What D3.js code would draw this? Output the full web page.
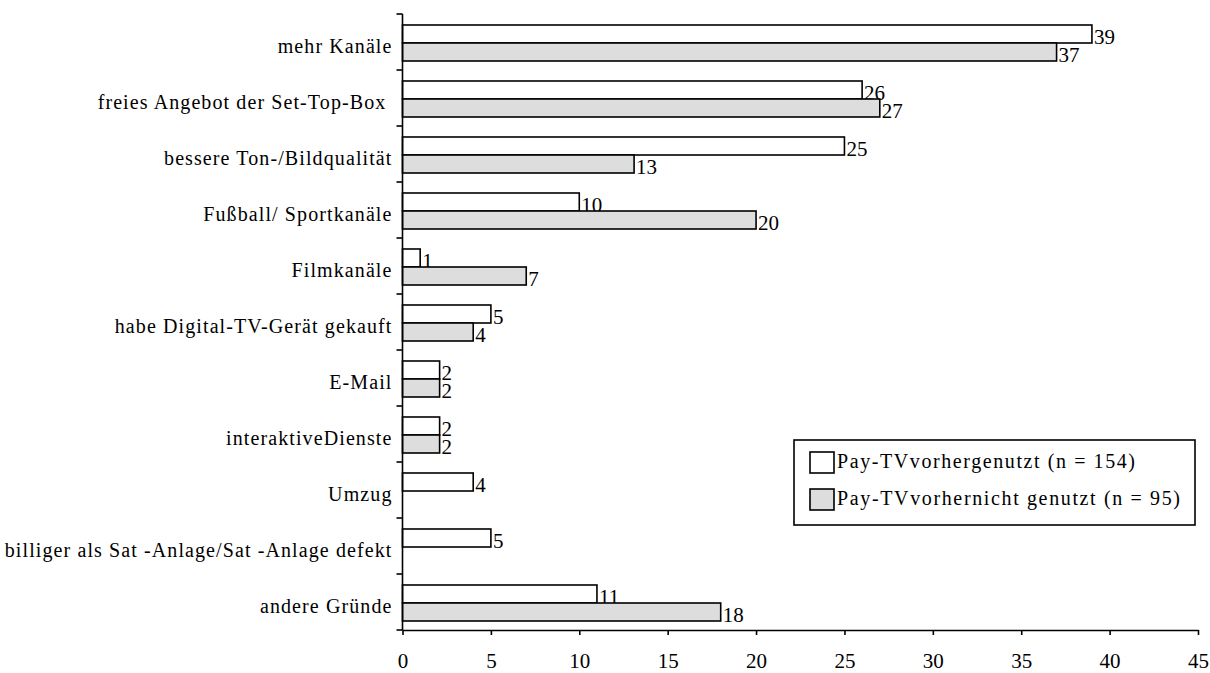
<!DOCTYPE html>
<html lang="de">
<head>
  <meta charset="UTF-8">
  <title>Gründe für Digital-TV</title>
  <script src="https://cdn.jsdelivr.net/npm/d3@7"></script>
  <style>
    body { margin: 0; background: #fff; }
    svg text { font-family: "Liberation Serif", "Times New Roman", serif; fill: #000; white-space: pre; }
  </style>
</head>
<body>
  <svg class="bar-chart"></svg>
</body>
</html>
<script>
  var svgWidth = 1210;
  var svgHeight = 673;

  var categories = [
    'mehr Kanäle',
    'freies Angebot der Set-Top-Box ',
    'bessere Ton-/Bildqualität',
    'Fußball/ Sportkanäle',
    'Filmkanäle',
    'habe Digital-TV-Gerät gekauft',
    'E-Mail',
    'interaktiveDienste',
    'Umzug',
    'billiger als Sat -Anlage/Sat -Anlage defekt',
    'andere Gründe'
  ];
  var seriesNames = ['Pay-TVvorhergenutzt (n = 154)', 'Pay-TVvorhernicht genutzt (n = 95)'];
  var payTvYes = [39, 26, 25, 10, 1, 5, 2.1, 2.1, 4, 5, 11];
  var payTvNo = [37, 27, 13.1, 20, 7, 4, 2.1, 2.1, null, null, 18];
  var xTicks = [0, 5, 10, 15, 20, 25, 30, 35, 40, 45];
  var colors = ['#ffffff', '#dddddd'];

  var margin = {top: 14, right: 12, bottom: 43, left: 402.5};
  var chartWidth = svgWidth - margin.left - margin.right;
  var chartHeight = svgHeight - margin.top - margin.bottom;

  var xScale = d3.scaleLinear()
    .domain([0, 45])
    .range([0, chartWidth]);

  var yScale = d3.scaleBand()
    .domain(categories)
    .range([0, chartHeight]);

  // the two bars of a group sit around the middle of the band
  var subScale = d3.scaleBand()
    .domain([0, 1])
    .range([-17, 19]);

  var svg = d3.select('.bar-chart')
    .attr('width', svgWidth)
    .attr('height', svgHeight);

  var chart = svg.append('g')
    .attr('transform', 'translate(' + margin.left + ',' + margin.top + ')');

  var rows = categories.map(function(c, i) {
    return {name: c, values: [payTvYes[i], payTvNo[i]]};
  });

  var group = chart.selectAll('.row')
    .data(rows)
    .enter()
    .append('g')
    .attr('class', 'row')
    .attr('transform', function(d) {
      return 'translate(0,' + (yScale(d.name) + yScale.bandwidth() / 2) + ')';
    });

  var cells = group.selectAll('.cell')
    .data(function(d) {
      return d.values.map(function(v, j) { return {value: v, series: j}; })
        .filter(function(e) { return e.value != null; });
    })
    .enter()
    .append('g')
    .attr('class', 'cell');

  cells.append('rect')
    .attr('x', 0)
    .attr('y', function(d) { return subScale(d.series); })
    .attr('width', function(d) { return xScale(d.value); })
    .attr('height', subScale.bandwidth())
    .attr('fill', function(d) { return colors[d.series]; })
    .attr('stroke', '#000')
    .attr('stroke-width', 1.6);

  cells.append('text')
    .attr('x', function(d) { return xScale(d.value) + 2; })
    .attr('y', function(d) { return subScale(d.series) + subScale.bandwidth() + 1; })
    .attr('font-size', 21)
    .text(function(d) { return Math.round(d.value); });

  // category labels
  group.append('text')
    .attr('x', -10)
    .attr('y', 10.5)
    .attr('text-anchor', 'end')
    .attr('font-size', 20)
    .attr('letter-spacing', 1.1)
    .text(function(d) { return d.name; });

  // y axis: line with ticks between the categories
  var yBounds = categories.map(function(c) { return yScale(c); }).concat([chartHeight]);
  chart.append('line')
    .attr('x1', 0).attr('x2', 0)
    .attr('y1', 0).attr('y2', chartHeight)
    .attr('stroke', '#000')
    .attr('stroke-width', 1.6);
  chart.selectAll('.ytick')
    .data(yBounds)
    .enter()
    .append('line')
    .attr('class', 'ytick')
    .attr('x1', -6).attr('x2', 0)
    .attr('y1', function(d) { return d; })
    .attr('y2', function(d) { return d; })
    .attr('stroke', '#000')
    .attr('stroke-width', 1.6);

  // x axis
  var xAxis = d3.axisBottom(xScale)
    .tickValues(xTicks)
    .tickSize(5)
    .tickPadding(18)
    .tickSizeOuter(0);
  var xg = chart.append('g')
    .attr('transform', 'translate(0,' + chartHeight + ')')
    .call(xAxis);
  xg.select('.domain').attr('stroke-width', 1.6);
  xg.selectAll('.tick line').attr('stroke-width', 1.6);
  xg.selectAll('.tick text')
    .attr('font-family', null)
    .attr('font-size', 21);

  // legend
  var legend = svg.append('g')
    .attr('transform', 'translate(794,440)');
  legend.append('rect')
    .attr('width', 401)
    .attr('height', 85)
    .attr('fill', '#fff')
    .attr('stroke', '#000')
    .attr('stroke-width', 1.6);
  var item = legend.selectAll('.item')
    .data(seriesNames)
    .enter()
    .append('g')
    .attr('class', 'item')
    .attr('transform', function(d, i) { return 'translate(16,' + (12 + i * 37) + ')'; });
  item.append('rect')
    .attr('width', 24)
    .attr('height', 21)
    .attr('fill', function(d, i) { return colors[i]; })
    .attr('stroke', '#000')
    .attr('stroke-width', 1.6);
  item.append('text')
    .attr('x', 27)
    .attr('y', 16)
    .attr('font-size', 20)
    .attr('textLength', function(d, i) { return i === 0 ? 298 : 343; })
    .attr('lengthAdjust', 'spacing')
    .text(function(d) { return d; });
</script>
